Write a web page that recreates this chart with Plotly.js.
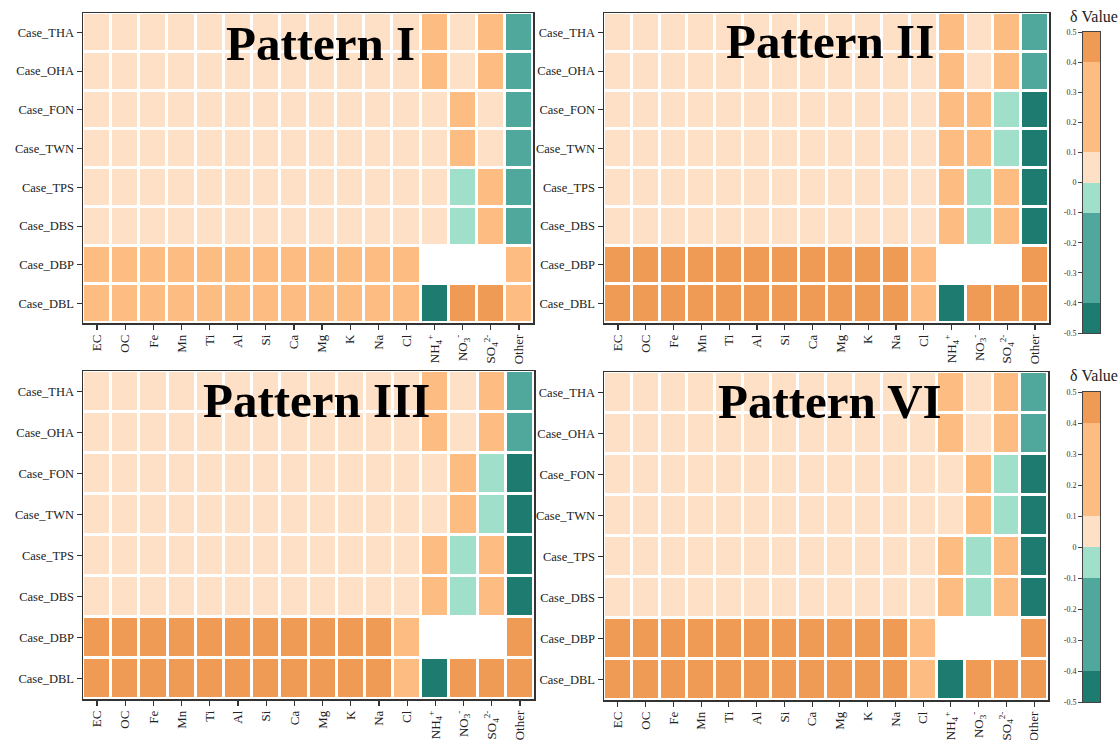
<!DOCTYPE html>
<html>
<head>
<meta charset="utf-8">
<script src="https://cdn.plot.ly/plotly-3.0.1.min.js"></script>
<style>html,body{margin:0;padding:0;background:#fff;}#chart{width:1120px;height:740px;}</style>
</head>
<body>
<div id="chart"></div>
<script>
// ---------- data ----------
const species = ["EC","OC","Fe","Mn","Ti","Al","Si","Ca","Mg","K","Na","Cl","NH4","NO3","SO4","Other"];
const speciesLabels = ["EC","OC","Fe","Mn","Ti","Al","Si","Ca","Mg","K","Na","Cl",
  "NH<sub>4</sub><sup>+</sup>","NO<sub>3</sub><sup>-</sup>","SO<sub>4</sub><sup>2-</sup>","Other"];
const cases = ["Case_THA","Case_OHA","Case_FON","Case_TWN","Case_TPS","Case_DBS","Case_DBP","Case_DBL"];
const patternNames = ["Pattern I","Pattern II","Pattern III","Pattern VI"];

const patternI = [
  [0.05,0.05,0.05,0.05,0.05,0.05,0.05,0.05,0.05,0.05,0.05,0.05, 0.25, 0.05, 0.25,-0.25],
  [0.05,0.05,0.05,0.05,0.05,0.05,0.05,0.05,0.05,0.05,0.05,0.05, 0.25, 0.05, 0.25,-0.25],
  [0.05,0.05,0.05,0.05,0.05,0.05,0.05,0.05,0.05,0.05,0.05,0.05, 0.05, 0.25, 0.05,-0.25],
  [0.05,0.05,0.05,0.05,0.05,0.05,0.05,0.05,0.05,0.05,0.05,0.05, 0.05, 0.25, 0.05,-0.25],
  [0.05,0.05,0.05,0.05,0.05,0.05,0.05,0.05,0.05,0.05,0.05,0.05, 0.05,-0.05, 0.25,-0.25],
  [0.05,0.05,0.05,0.05,0.05,0.05,0.05,0.05,0.05,0.05,0.05,0.05, 0.05,-0.05, 0.25,-0.25],
  [0.25,0.25,0.25,0.25,0.25,0.25,0.25,0.25,0.25,0.25,0.25,0.25, null, null, null, 0.25],
  [0.25,0.25,0.25,0.25,0.25,0.25,0.25,0.25,0.25,0.25,0.25,0.25,-0.45, 0.45, 0.45, 0.25]
];
const patternII = [
  [0.05,0.05,0.05,0.05,0.05,0.05,0.05,0.05,0.05,0.05,0.05,0.05, 0.25, 0.05, 0.25,-0.25],
  [0.05,0.05,0.05,0.05,0.05,0.05,0.05,0.05,0.05,0.05,0.05,0.05, 0.25, 0.05, 0.25,-0.25],
  [0.05,0.05,0.05,0.05,0.05,0.05,0.05,0.05,0.05,0.05,0.05,0.05, 0.25, 0.25,-0.05,-0.45],
  [0.05,0.05,0.05,0.05,0.05,0.05,0.05,0.05,0.05,0.05,0.05,0.05, 0.25, 0.25,-0.05,-0.45],
  [0.05,0.05,0.05,0.05,0.05,0.05,0.05,0.05,0.05,0.05,0.05,0.05, 0.25,-0.05, 0.25,-0.45],
  [0.05,0.05,0.05,0.05,0.05,0.05,0.05,0.05,0.05,0.05,0.05,0.05, 0.25,-0.05, 0.25,-0.45],
  [0.45,0.45,0.45,0.45,0.45,0.45,0.45,0.45,0.45,0.45,0.45,0.25, null, null, null, 0.45],
  [0.45,0.45,0.45,0.45,0.45,0.45,0.45,0.45,0.45,0.45,0.45,0.25,-0.45, 0.45, 0.45, 0.45]
];
const patternIII = [
  [0.05,0.05,0.05,0.05,0.05,0.05,0.05,0.05,0.05,0.05,0.05,0.05, 0.25, 0.05, 0.25,-0.25],
  [0.05,0.05,0.05,0.05,0.05,0.05,0.05,0.05,0.05,0.05,0.05,0.05, 0.25, 0.05, 0.25,-0.25],
  [0.05,0.05,0.05,0.05,0.05,0.05,0.05,0.05,0.05,0.05,0.05,0.05, 0.05, 0.25,-0.05,-0.45],
  [0.05,0.05,0.05,0.05,0.05,0.05,0.05,0.05,0.05,0.05,0.05,0.05, 0.05, 0.25,-0.05,-0.45],
  [0.05,0.05,0.05,0.05,0.05,0.05,0.05,0.05,0.05,0.05,0.05,0.05, 0.25,-0.05, 0.25,-0.45],
  [0.05,0.05,0.05,0.05,0.05,0.05,0.05,0.05,0.05,0.05,0.05,0.05, 0.25,-0.05, 0.25,-0.45],
  [0.45,0.45,0.45,0.45,0.45,0.45,0.45,0.45,0.45,0.45,0.45,0.25, null, null, null, 0.45],
  [0.45,0.45,0.45,0.45,0.45,0.45,0.45,0.45,0.45,0.45,0.45,0.25,-0.45, 0.45, 0.45, 0.45]
];
const patternVI = [
  [0.05,0.05,0.05,0.05,0.05,0.05,0.05,0.05,0.05,0.05,0.05,0.05, 0.25, 0.05, 0.25,-0.25],
  [0.05,0.05,0.05,0.05,0.05,0.05,0.05,0.05,0.05,0.05,0.05,0.05, 0.25, 0.05, 0.25,-0.25],
  [0.05,0.05,0.05,0.05,0.05,0.05,0.05,0.05,0.05,0.05,0.05,0.05, 0.05, 0.25,-0.05,-0.45],
  [0.05,0.05,0.05,0.05,0.05,0.05,0.05,0.05,0.05,0.05,0.05,0.05, 0.05, 0.25,-0.05,-0.45],
  [0.05,0.05,0.05,0.05,0.05,0.05,0.05,0.05,0.05,0.05,0.05,0.05, 0.25,-0.05, 0.25,-0.45],
  [0.05,0.05,0.05,0.05,0.05,0.05,0.05,0.05,0.05,0.05,0.05,0.05, 0.25,-0.05, 0.25,-0.45],
  [0.45,0.45,0.45,0.45,0.45,0.45,0.45,0.45,0.45,0.45,0.45,0.25, null, null, null, 0.45],
  [0.45,0.45,0.45,0.45,0.45,0.45,0.45,0.45,0.45,0.45,0.45,0.25,-0.45, 0.45, 0.45, 0.45]
];
const patterns = [patternI, patternII, patternIII, patternVI];

// colour bar bins (centres) and tick values
const barBins = [-0.45,-0.35,-0.25,-0.15,-0.05,0.05,0.15,0.25,0.35,0.45];
const barTicks = [-0.5,-0.4,-0.3,-0.2,-0.1,0,0.1,0.2,0.3,0.4,0.5];
const barTickText = ["-0.5","-0.4","-0.3","-0.2","-0.1","0","0.1","0.2","0.3","0.4","0.5"];

// ---------- style ----------
const cDark = "#1e7b70", cMid = "#50a79b", cMint = "#a0e0cb",
      cPale = "#fde0c6", cLight = "#fdbc81", cOrange = "#ef9a55";
const colorscale = [
  [0.0,cDark],[0.1,cDark],[0.1,cMid],[0.4,cMid],[0.4,cMint],[0.5,cMint],
  [0.5,cPale],[0.6,cPale],[0.6,cLight],[0.9,cLight],[0.9,cOrange],[1.0,cOrange]
];
const serif = "Liberation Serif, Times New Roman, serif";
const W = 1120, H = 740;
const px = (a,b) => [a/W, b/W];
const py = (top,bottom) => [(H-bottom)/H, (H-top)/H];

const panels = [
  {x: px(83,533),  y: py(13,323)},
  {x: px(604,1049), y: py(13,323)},
  {x: px(83,534),  y: py(371,699)},
  {x: px(604,1048), y: py(372,700)}
];
const titlePos = [[320,44],[830,42],[316,400],[830,401]];
const bars = [
  {x: px(1083,1100), y: py(32,333), title: 16},
  {x: px(1083,1100), y: py(392,702), title: 376}
];

const traces = [];
const layout = {
  width: W, height: H,
  margin: {l:0, r:0, t:0, b:0},
  paper_bgcolor: "#ffffff", plot_bgcolor: "#ffffff",
  showlegend: false,
  font: {family: serif, color: "#222"},
  annotations: []
};

patterns.forEach((z, i) => {
  const n = i + 1;
  const xa = "x" + n, ya = "y" + n;
  traces.push({
    type: "heatmap", x: species, y: cases, z: z,
    xaxis: xa, yaxis: ya,
    colorscale: colorscale, zmin: -0.5, zmax: 0.5,
    showscale: false, xgap: 3, ygap: 3, hoverinfo: "skip"
  });
  layout["xaxis" + n] = {
    domain: panels[i].x, anchor: ya,
    tickmode: "array", tickvals: species, ticktext: speciesLabels,
    tickangle: -90, ticks: "outside", ticklen: 5, tickwidth: 1.2, tickcolor: "#333",
    tickfont: {family: serif, size: 13, color: "#222"},
    showline: true, mirror: true, linecolor: "#333", linewidth: 1.5,
    showgrid: false, zeroline: false, fixedrange: true
  };
  layout["yaxis" + n] = {
    domain: panels[i].y, anchor: xa, autorange: "reversed",
    ticks: "outside", ticklen: 5, tickwidth: 1.2, tickcolor: "#333",
    tickfont: {family: serif, size: 12.5, color: "#222"},
    showline: true, mirror: true, linecolor: "#333", linewidth: 1.5,
    showgrid: false, zeroline: false, fixedrange: true
  };
  layout.annotations.push({
    xref: "paper", yref: "paper",
    x: titlePos[i][0]/W, y: (H - titlePos[i][1])/H,
    text: "<b>" + patternNames[i] + "</b>", showarrow: false,
    xanchor: "center", yanchor: "middle",
    font: {family: serif, size: 49, color: "#000"}
  });
});

bars.forEach((b, j) => {
  const n = 5 + j;
  const xa = "x" + n, ya = "y" + n;
  traces.push({
    type: "heatmap", x: [0], y: barBins, z: barBins.map(v => [v]),
    xaxis: xa, yaxis: ya,
    colorscale: colorscale, zmin: -0.5, zmax: 0.5,
    showscale: false, hoverinfo: "skip"
  });
  layout["xaxis" + n] = {
    domain: b.x, anchor: ya, showticklabels: false, ticks: "",
    showline: true, mirror: true, linecolor: "#444", linewidth: 1,
    showgrid: false, zeroline: false, fixedrange: true
  };
  layout["yaxis" + n] = {
    domain: b.y, anchor: xa, range: [-0.5, 0.5],
    tickmode: "array", tickvals: barTicks, ticktext: barTickText,
    ticks: "outside", ticklen: 4, tickwidth: 1, tickcolor: "#444",
    tickfont: {family: serif, size: 8, color: "#333"},
    showline: true, mirror: true, linecolor: "#444", linewidth: 1,
    showgrid: false, zeroline: false, fixedrange: true
  };
  layout.annotations.push({
    xref: "paper", yref: "paper",
    x: 1094/W, y: (H - b.title)/H,
    text: "δ Value", showarrow: false,
    xanchor: "center", yanchor: "middle",
    font: {family: serif, size: 16, color: "#222"}
  });
});

Plotly.newPlot("chart", traces, layout, {displayModeBar: false, staticPlot: true});
</script>
</body>
</html>
